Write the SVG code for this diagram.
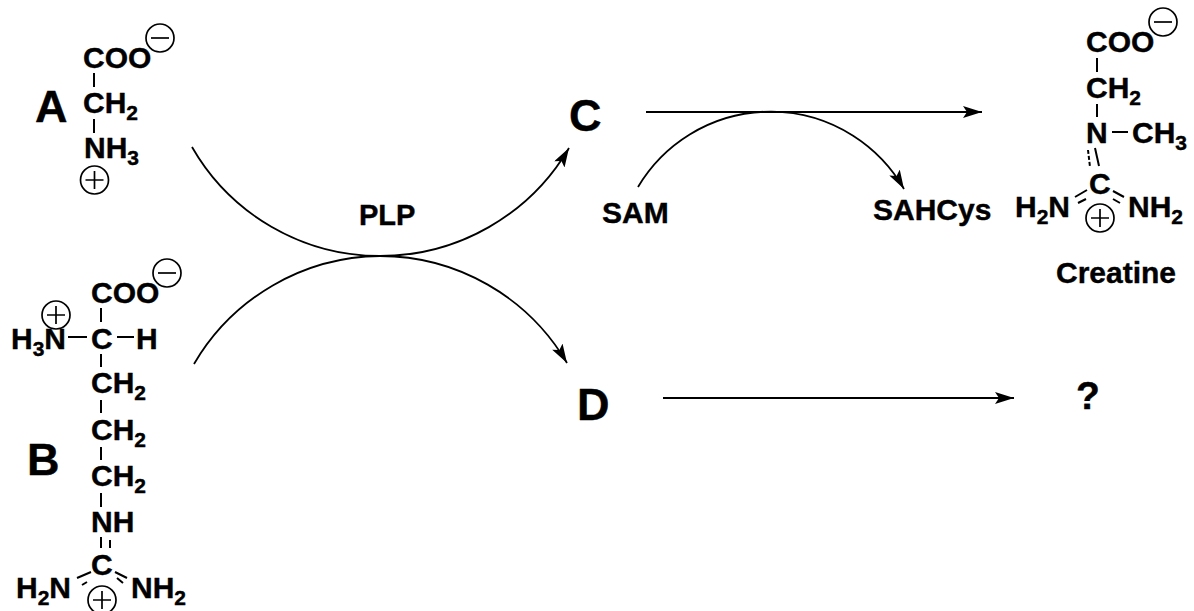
<svg xmlns="http://www.w3.org/2000/svg" width="1194" height="611" viewBox="0 0 1194 611">
<style>
text{font-family:"Liberation Sans",Arial,sans-serif;font-weight:700;fill:#000;stroke:#000;stroke-width:.4}
.chem{font-size:30px}
.sub{font-size:21px}
.big{font-size:45px}
.lab{font-size:30px}
.b{stroke:#000;stroke-width:2;fill:none}
.c2{stroke:#000;stroke-width:1.7;fill:none}
.a{stroke:#000;stroke-width:1.8;fill:none}
</style>
<defs>
<marker id="ah" markerUnits="userSpaceOnUse" markerWidth="20" markerHeight="14" refX="19" refY="6" orient="auto"><path d="M0 0L19 6L0 12L4 6Z" fill="#000"/></marker>
<g id="minus"><circle r="14" class="c2"/><path d="M-9 0H9" class="c2"/></g>
<g id="plus"><circle r="14" class="c2"/><path d="M-9 0H9M0-9V9" class="c2"/></g>
</defs>
<g id="connectors">
<path class="a" marker-end="url(#ah)" d="M192 147A217 217 0 0 0 380 256A219 219 0 0 0 569 148"/>
<path class="a" marker-end="url(#ah)" d="M194 364A218 218 0 0 1 380 256A217 217 0 0 1 567 363"/>
<path class="a" marker-end="url(#ah)" d="M646 112H982"/>
<path class="a" marker-end="url(#ah)" d="M638 187A154 154 0 0 1 904 189"/>
<path class="a" marker-end="url(#ah)" d="M663 398H1014"/>
</g>
<g id="node-a">
<text class="big" x="35" y="122">A</text>
<text class="chem" x="83" y="68">COO</text>
<use href="#minus" x="160" y="38"/>
<path class="b" d="M94 73V87"/>
<text class="chem" x="83" y="113">CH<tspan class="sub" dy="7">2</tspan></text>
<path class="b" d="M94 119V133"/>
<text class="chem" x="84" y="158">NH<tspan class="sub" dy="7">3</tspan></text>
<use href="#plus" x="94.500" y="180"/>
</g>
<g id="node-b">
<text class="big" x="27" y="475">B</text>
<text class="chem" x="91" y="303">COO</text>
<use href="#minus" x="167" y="273"/>
<use href="#plus" x="56" y="315"/>
<path class="b" d="M101 308V322"/>
<text class="chem" x="11" y="349">H<tspan class="sub" dy="7">3</tspan><tspan dy="-7">N</tspan></text>
<path class="b" d="M68 337H87M117 337H134"/>
<text class="chem" x="91" y="349">C</text>
<text class="chem" x="136" y="349">H</text>
<path class="b" d="M101 354V367"/>
<text class="chem" x="91" y="393">CH<tspan class="sub" dy="7">2</tspan></text>
<path class="b" d="M101 400V413"/>
<text class="chem" x="91" y="440">CH<tspan class="sub" dy="7">2</tspan></text>
<path class="b" d="M101 447V460"/>
<text class="chem" x="91" y="486">CH<tspan class="sub" dy="7">2</tspan></text>
<path class="b" d="M101 493V507"/>
<text class="chem" x="91" y="532">NH</text>
<path class="b" d="M101 537V548M110 540V548"/>
<text class="chem" x="91" y="575">C</text>
<path class="b" d="M77 578L91 572M82 585L87 582M115 572L127 578M117 578L123 583"/>
<text class="chem" x="16" y="598">H<tspan class="sub" dy="7">2</tspan><tspan dy="-7">N</tspan></text>
<text class="chem" x="131" y="598">NH<tspan class="sub" dy="7">2</tspan></text>
<use href="#plus" x="102" y="600"/>
</g>
<g id="node-c"><text class="big" x="569" y="131">C</text></g>
<g id="node-d"><text class="big" x="577" y="420">D</text></g>
<g id="node-plp"><text class="lab" x="359" y="225" style="font-size:29px">PLP</text></g>
<g id="node-sam"><text class="lab" x="602" y="223">SAM</text></g>
<g id="node-sahcys"><text class="lab" x="873" y="220">SAHCys</text></g>
<g id="node-creatine">
<text class="chem" x="1086" y="52">COO</text>
<use href="#minus" x="1163" y="22"/>
<path class="b" d="M1097 58V72"/>
<text class="chem" x="1086" y="98">CH<tspan class="sub" dy="7">2</tspan></text>
<path class="b" d="M1097 104V117"/>
<text class="chem" x="1086" y="143">N</text>
<path class="b" d="M1112 132H1128"/>
<text class="chem" x="1132" y="143">CH<tspan class="sub" dy="7">3</tspan></text>
<path class="b" d="M1095 148L1099 166"/>
<path class="b" stroke-dasharray="4 2" d="M1088 150L1090 167"/>
<text class="chem" x="1089" y="194">C</text>
<path class="b" d="M1075 197L1087 190M1078 203L1086 199M1113 191L1124 197M1113 199L1120 203"/>
<text class="chem" x="1015" y="217">H<tspan class="sub" dy="7">2</tspan><tspan dy="-7">N</tspan></text>
<text class="chem" x="1128" y="217">NH<tspan class="sub" dy="7">2</tspan></text>
<use href="#plus" x="1100" y="218"/>
<text class="lab" x="1056" y="283">Creatine</text>
</g>
<g id="node-unknown"><text x="1076" y="409" style="font-size:39px">?</text></g>
</svg>
